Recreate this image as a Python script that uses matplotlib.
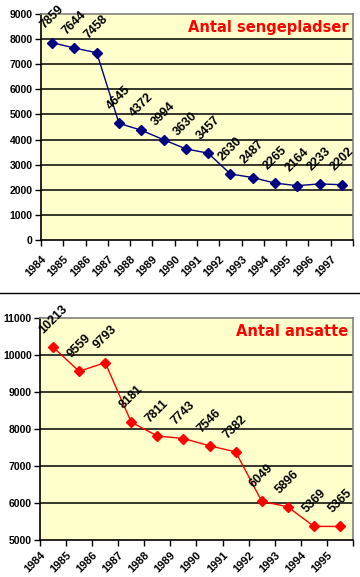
import matplotlib.pyplot as plt
from matplotlib.lines import Line2D

# data
beds_years = ["1984", "1985", "1986", "1987", "1988", "1989", "1990",
              "1991", "1992", "1993", "1994", "1995", "1996", "1997"]
beds = [7859, 7644, 7458, 4645, 4372, 3994, 3630, 3457, 2630, 2487, 2265, 2164, 2233, 2202]

staff_years = ["1984", "1985", "1986", "1987", "1988", "1989",
               "1990", "1991", "1992", "1993", "1994", "1995"]
staff = [10213, 9559, 9793, 8181, 7811, 7743, 7546, 7382, 6049, 5896, 5369, 5365]

plt.rcParams['font.family'] = ['Liberation Sans', 'DejaVu Sans']

W, H = 360, 577
fig = plt.figure(figsize=(W / 100, H / 100), dpi=100)


def make_axes(x0, y0, x1, y1):
    return fig.add_axes([x0 / W, 1 - y1 / H, (x1 - x0) / W, (y1 - y0) / H])


def draw(ax, years, values, color, title, ymin, ymax, step, xpad):
    n = len(years)
    xs = list(range(n))
    ax.set_facecolor('#FFFFCC')
    ax.set_xlim(-0.5, n - 0.5)
    ax.set_ylim(ymin, ymax)
    ax.set_yticks(range(ymin, ymax + 1, step))
    ax.set_yticklabels([str(v) for v in range(ymin, ymax + 1, step)],
                       fontsize=7.5, fontweight='bold')
    for v in range(ymin + step, ymax, step):
        ax.axhline(v, color='black', lw=1.1, zorder=1)
    ax.set_xticks([i - 0.5 for i in range(n + 1)])
    ax.set_xticklabels(years + [""], rotation=45, ha='right', va='top',
                       fontsize=8, fontweight='bold', rotation_mode='anchor')
    ax.tick_params(axis='x', length=4, width=1, pad=xpad)
    ax.tick_params(axis='y', length=4, width=1, pad=2)
    for s in ['left', 'bottom']:
        ax.spines[s].set_color('black')
        ax.spines[s].set_linewidth(1.2)
    for s in ['top', 'right']:
        ax.spines[s].set_color('#808080')
        ax.spines[s].set_linewidth(1.2)
    ax.plot(xs, values, color=color, lw=1, marker='D', markersize=5,
            markeredgecolor=color, markerfacecolor=color, zorder=3)
    for x, v in zip(xs, values):
        ax.annotate(str(v), (x, v), xytext=(0, 8), textcoords='offset points',
                    rotation=45, ha='center', va='bottom', fontsize=9,
                    fontweight='bold', zorder=4)
    ax.text(0.985, 0.975, title, transform=ax.transAxes, ha='right', va='top',
            color='#FF0000', fontsize=10.5, fontweight='bold',
            family=['DejaVu Sans'])


ax1 = make_axes(41, 14, 353, 240)
draw(ax1, beds_years, beds, '#000080', "Antal sengepladser", 0, 9000, 1000, 6)

ax2 = make_axes(40, 318, 353, 540)
draw(ax2, staff_years, staff, '#FF0000', "Antal ansatte", 5000, 11000, 1000, 3)

# separator line between the two charts
fig.add_artist(Line2D([0, 1], [1 - 293 / H, 1 - 293 / H], color='black', lw=1))

fig.savefig('out.png', dpi=100, facecolor='white')
